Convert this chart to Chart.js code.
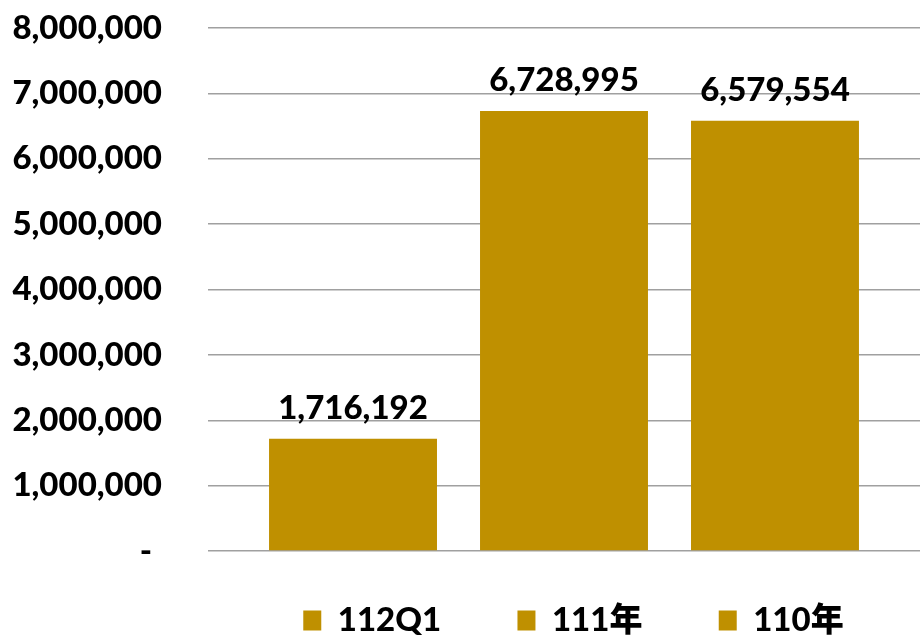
<!DOCTYPE html>
<html>
<head>
<meta charset="utf-8">
<script src="https://cdn.jsdelivr.net/npm/chart.js@4/dist/chart.umd.min.js"></script>
<style>
  html, body { margin: 0; padding: 0; background: #fff; }
  #wrap { width: 920px; height: 635px; }
</style>
</head>
<body>
<div id="wrap"><canvas id="myChart"></canvas></div>
<script>
// data
var seriesNames = ["112Q1", "111年", "110年"];
var seriesValues = [1716192, 6728995, 6579554];
var yTicks = [0, 1000000, 2000000, 3000000, 4000000, 5000000, 6000000, 7000000, 8000000];

var gold = "#BF9000";
var fontFamily = "Lato, 'Noto Sans CJK TC', sans-serif";

function fmt(v) {
  return v.toLocaleString("en-US");
}

//build one dataset per series, all in a single category
var datasets = [];
for (var i = 0; i < seriesNames.length; i++) {
  datasets.push({
    label: seriesNames[i],
    data: [seriesValues[i]],
    backgroundColor: gold,
    borderWidth: 0,
    categoryPercentage: 0.889,
    barPercentage: 0.796
  });
}

//draw the number above each bar
var valueLabels = {
  id: "valueLabels",
  afterDatasetsDraw: function(chart) {
    var ctx = chart.ctx;
    ctx.save();
    ctx.font = "900 33px " + fontFamily;
    ctx.fillStyle = "#000";
    ctx.textAlign = "center";
    ctx.textBaseline = "alphabetic";
    chart.data.datasets.forEach(function(ds, i) {
      var bar = chart.getDatasetMeta(i).data[0];
      ctx.fillText(fmt(ds.data[0]), bar.x, bar.y - 20);
    });
    ctx.restore();
  }
};

new Chart("myChart", {
  type: "bar",
  data: {
    labels: [""],
    datasets: datasets
  },
  plugins: [valueLabels],
  options: {
    responsive: true,
    maintainAspectRatio: false,
    animation: false,
    layout: { padding: { top: 28, right: 0, bottom: -12, left: 0 } },
    plugins: {
      tooltip: { enabled: false },
      legend: {
        position: "bottom",
        align: "end",
        labels: {
          boxWidth: 18,
          boxHeight: 20,
          padding: 45,
          color: "#000",
          font: { family: fontFamily, size: 33, weight: "900" },
          // trailing spaces spread the entries out like the original
          generateLabels: function(chart) {
            var items = Chart.defaults.plugins.legend.labels.generateLabels(chart);
            items.forEach(function(it) { it.text = it.text + "    "; });
            return items;
          }
        }
      }
    },
    scales: {
      x: {
        grid: { display: false },
        border: { display: false },
        ticks: { display: false }
      },
      y: {
        min: 0,
        max: 8000000,
        afterBuildTicks: function(scale) {
          scale.ticks = yTicks.map(function(v) { return { value: v }; });
        },
        afterFit: function(scale) { scale.width = 208; },
        grid: { color: "#A0A0A0", lineWidth: 1.5, drawTicks: true, tickLength: 40, tickColor: "rgba(0,0,0,0)" },
        border: { display: false },
        ticks: {
          padding: 6,
          color: "#000",
          font: { family: fontFamily, size: 33, weight: "900" },
          callback: function(v) { return v === 0 ? "- \u200A" : fmt(v); }
        }
      }
    }
  }
});
</script>
</body>
</html>
